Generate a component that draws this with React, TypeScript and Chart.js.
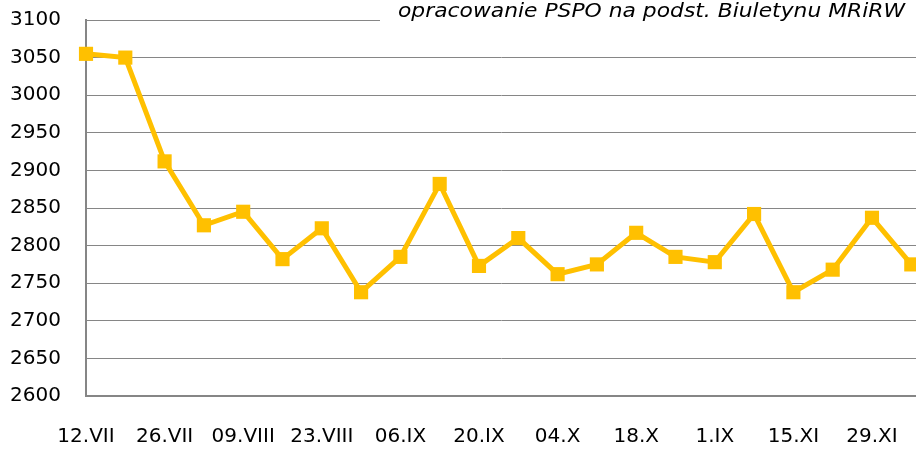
import React, { useEffect, useRef } from "react";
import { Chart, registerables } from "chart.js";

Chart.register(...registerables);

const weekLabels = [
  "12.VII", "19.VII", "26.VII", "02.VIII", "09.VIII", "16.VIII", "23.VIII", "30.VIII",
  "06.IX", "13.IX", "20.IX", "27.IX", "04.X", "11.X", "18.X", "25.X",
  "1.IX", "08.XI", "15.XI", "22.XI", "29.XI", "06.XII",
];

const prices = [
  3055, 3050, 2912, 2827, 2845, 2782, 2823, 2738, 2785, 2882, 2773,
  2810, 2762, 2775, 2817, 2785, 2778, 2842, 2738, 2768, 2837, 2775,
];

const yTicks = [2600, 2650, 2700, 2750, 2800, 2850, 2900, 2950, 3000, 3050, 3100];

const sourceNote = "opracowanie PSPO na podst. Biuletynu MRiRW";

const FONT = "'DejaVu Sans', sans-serif";

export default function App() {
  const ref = useRef<HTMLCanvasElement | null>(null);

  useEffect(() => {
    if (!ref.current) return;
    const axisPlugin = {
      id: "bottomAxis",
      beforeDatasetsDraw(chart: any) {
        const ctx = chart.ctx;
        const { left, right } = chart.chartArea;
        const y = Math.round(chart.scales.y.getPixelForValue(yTicks[0]));
        ctx.save();
        ctx.strokeStyle = "#868686";
        ctx.lineWidth = 2;
        ctx.beginPath();
        ctx.moveTo(left - 1, y);
        ctx.lineTo(right, y);
        ctx.stroke();
        ctx.restore();
      },
    };
    const notePlugin = {
      id: "note",
      afterDraw(chart: any) {
        const ctx = chart.ctx;
        ctx.save();
        ctx.fillStyle = "#ffffff";
        ctx.fillRect(380, 0, chart.width - 380, 26);
        ctx.fillStyle = "#000000";
        ctx.font = `italic 19px ${FONT}`;
        ctx.textAlign = "left";
        ctx.textBaseline = "middle";
        const w = ctx.measureText(sourceNote).width;
        const sx = 507 / w;
        ctx.translate(398, 12);
        ctx.scale(sx, 1);
        ctx.fillText(sourceNote, 0, 0);
        ctx.restore();
      },
    };
    const chart = new Chart(ref.current, {
      type: "line",
      data: {
        datasets: [
          {
            data: prices.map((v, i) => ({ x: i, y: v })),
            borderColor: "#FFC000",
            backgroundColor: "#FFC000",
            borderWidth: 5,
            pointStyle: "rect",
            pointRadius: 10,
            pointHoverRadius: 10,
            pointBorderWidth: 0,
            tension: 0,
            clip: false as any,
          },
        ],
      },
      options: {
        animation: false,
        responsive: false,
        maintainAspectRatio: false,
        layout: { padding: { left: 10, top: 20, right: 0, bottom: 0 } },
        plugins: {
          legend: { display: false },
          tooltip: { enabled: false },
          title: { display: false },
        },
        scales: {
          x: {
            type: "linear",
            min: 0,
            max: 21.12,
            grid: { display: false },
            border: { display: true, color: "#868686", width: 2 },
            afterBuildTicks: (axis: any) => {
              axis.ticks = weekLabels
                .map((_, i) => ({ value: i }))
                .filter((t) => t.value % 2 === 0);
            },
            afterFit: (axis: any) => {
              axis.paddingLeft = 0;
              axis.paddingRight = 0;
              axis.height = 54;
            },
            ticks: {
              autoSkip: false,
              maxRotation: 0,
              padding: 21,
              color: "#000000",
              font: { family: FONT, size: 20 },
              callback: (v: any) => weekLabels[v] ?? "",
            },
          },
          y: {
            min: 2600,
            max: 3100,
            afterBuildTicks: (axis: any) => {
              axis.ticks = yTicks.map((v) => ({ value: v }));
            },
            afterFit: (axis: any) => {
              axis.paddingTop = 0;
              axis.paddingBottom = 0;
              axis.width = 76;
            },
            grid: { color: "#868686", lineWidth: 1, drawTicks: false },
            border: { display: true, color: "#868686", width: 2 },
            ticks: {
              padding: 25,
              color: "#000000",
              font: { family: FONT, size: 20 },
              callback: (v: any) => String(v),
            },
          },
        },
      },
      plugins: [axisPlugin, notePlugin],
    });
    return () => chart.destroy();
  }, []);

  return (
    <div style={{ position: "fixed", left: 0, top: 0, width: 916, height: 450, overflow: "hidden", background: "#fff" }}>
      <canvas ref={ref} width={926} height={450} style={{ display: "block" }} />
    </div>
  );
}
